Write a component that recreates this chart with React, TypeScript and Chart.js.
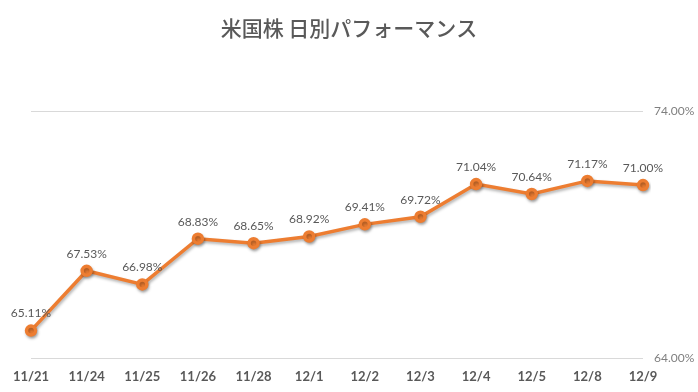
import React, { useEffect, useRef } from "react";
import { Chart, registerables } from "chart.js";

Chart.register(...registerables);

const titleText = "米国株 日別パフォーマンス";
const categories = ["11/21", "11/24", "11/25", "11/26", "11/28", "12/1", "12/2", "12/3", "12/4", "12/5", "12/8", "12/9"];
const performance = [65.11, 67.53, 66.98, 68.83, 68.65, 68.92, 69.41, 69.72, 71.04, 70.64, 71.17, 71.0];
const yMin = 64;
const yMax = 74;

const lineColor = "#ED7D31";
const textColor = "#595959";

const shadowPlugin = {
  id: "lineShadow",
  beforeDatasetDraw(chart: any) {
    const ctx = chart.ctx;
    ctx.save();
    ctx.shadowColor = "rgba(0,0,0,0.3)";
    ctx.shadowBlur = 3;
    ctx.shadowOffsetX = 1;
    ctx.shadowOffsetY = 2;
  },
  afterDatasetDraw(chart: any) {
    chart.ctx.restore();
  },
};

const titlePlugin = {
  id: "centerTitle",
  afterDraw(chart: any) {
    const ctx = chart.ctx;
    ctx.save();
    ctx.font = "500 21px 'Noto Sans CJK JP', sans-serif";
    ctx.fillStyle = textColor;
    ctx.textAlign = "center";
    ctx.textBaseline = "middle";
    ctx.fillText(titleText, chart.width / 2, 28);
    ctx.restore();
  },
};

const labelPlugin = {
  id: "pointLabels",
  afterDatasetsDraw(chart: any) {
    const ctx = chart.ctx;
    const meta = chart.getDatasetMeta(0);
    const data = chart.data.datasets[0].data as number[];
    ctx.save();
    ctx.font = "12px Lato, 'Open Sans', sans-serif";
    ctx.fillStyle = textColor;
    ctx.textAlign = "center";
    ctx.textBaseline = "middle";
    meta.data.forEach((pt: any, i: number) => {
      ctx.fillText(data[i].toFixed(2) + "%", pt.x, pt.y - 17);
    });
    ctx.restore();
  },
};

export default function App() {
  const ref = useRef<HTMLCanvasElement | null>(null);
  useEffect(() => {
    if (!ref.current) return;
    const chart = new Chart(ref.current, {
      type: "line",
      data: {
        labels: categories,
        datasets: [
          {
            data: performance,
            borderColor: lineColor,
            backgroundColor: lineColor,
            borderWidth: 3.5,
            pointRadius: 4.5,
            pointBackgroundColor: lineColor,
            pointBorderColor: lineColor,
            tension: 0,
          },
        ],
      },
      options: {
        animation: false,
        responsive: false,
        maintainAspectRatio: false,
        layout: { padding: { left: 31, right: 0, top: 111, bottom: 0 } },
        plugins: {
          legend: { display: false },
          tooltip: { enabled: false },
          title: { display: false },
        },
        scales: {
          x: {
            offset: false,
            grid: { display: false, drawTicks: false },
            border: { display: false },
            ticks: {
              color: textColor,
              padding: 11,
              maxRotation: 0,
              autoSkip: false,
              font: { family: "Lato, 'Open Sans', sans-serif", size: 13, weight: "bold" as any },
            },
            afterFit(scale: any) {
              scale.height = 34;
            },
          },
          y: {
            position: "right",
            min: yMin,
            max: yMax,
            grid: { color: "#D9D9D9", lineWidth: 1, drawTicks: false },
            border: { display: false },
            ticks: {
              stepSize: 10,
              color: "#7F7F7F",
              padding: 11,
              font: { family: "Lato, 'Open Sans', sans-serif", size: 12 },
              callback: (v: any) => Number(v).toFixed(2) + "%",
            },
            afterFit(scale: any) {
              scale.width = 55;
            },
          },
        },
      },
      plugins: [shadowPlugin, labelPlugin, titlePlugin],
    });
    return () => chart.destroy();
  }, []);
  return (
    <div style={{ position: "absolute", left: 0, top: 0, width: 698, height: 392, background: "#fff" }}>
      <canvas ref={ref} width={698} height={392} style={{ display: "block", width: 698, height: 392 }} />
    </div>
  );
}
